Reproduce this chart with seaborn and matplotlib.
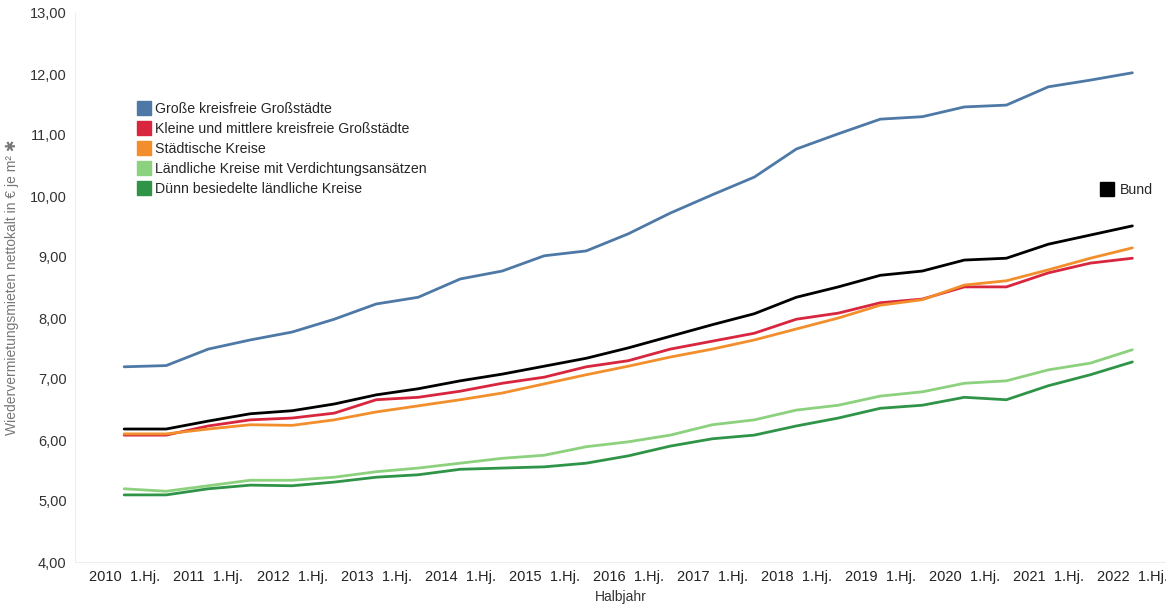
import matplotlib
matplotlib.use('Agg')
import matplotlib.pyplot as plt
from matplotlib.lines import Line2D
import pandas as pd
import seaborn as sns

# Halbjahre 2010 1.Hj. bis 2022 1.Hj.
jahre = list(range(2010, 2023))
halbjahre = []
for j in jahre:
    halbjahre.append(f'{j} 1.Hj.')
    if j < 2022:
        halbjahre.append(f'{j} 2.Hj.')

grosse = [7.20, 7.22, 7.49, 7.64, 7.77, 7.98, 8.23, 8.34, 8.64, 8.77, 9.02, 9.10, 9.38,
          9.72, 10.02, 10.31, 10.77, 11.02, 11.26, 11.30, 11.46, 11.49, 11.79, 11.90, 12.02]
kleine = [6.08, 6.08, 6.23, 6.33, 6.36, 6.44, 6.66, 6.70, 6.80, 6.93, 7.03, 7.20, 7.30,
          7.49, 7.62, 7.75, 7.98, 8.08, 8.25, 8.31, 8.51, 8.51, 8.74, 8.90, 8.98]
staedtisch = [6.10, 6.10, 6.18, 6.25, 6.24, 6.33, 6.46, 6.56, 6.66, 6.77, 6.92, 7.07, 7.21,
              7.36, 7.49, 7.64, 7.82, 8.00, 8.21, 8.30, 8.54, 8.61, 8.79, 8.98, 9.15]
laendlich_verd = [5.20, 5.16, 5.25, 5.34, 5.34, 5.39, 5.48, 5.54, 5.62, 5.70, 5.75, 5.89, 5.97,
                  6.08, 6.25, 6.33, 6.49, 6.57, 6.72, 6.79, 6.93, 6.97, 7.15, 7.26, 7.48]
duenn = [5.10, 5.10, 5.20, 5.26, 5.25, 5.31, 5.39, 5.43, 5.52, 5.54, 5.56, 5.62, 5.74,
         5.90, 6.02, 6.08, 6.23, 6.36, 6.52, 6.57, 6.70, 6.66, 6.89, 7.07, 7.28]
bund = [6.18, 6.18, 6.31, 6.43, 6.48, 6.59, 6.74, 6.84, 6.97, 7.08, 7.21, 7.34, 7.51,
        7.70, 7.89, 8.07, 8.34, 8.51, 8.70, 8.77, 8.95, 8.98, 9.21, 9.36, 9.51]

kreistypen = ['Große kreisfreie Großstädte',
              'Kleine und mittlere kreisfreie Großstädte',
              'Städtische Kreise',
              'Ländliche Kreise mit Verdichtungsansätzen',
              'Dünn besiedelte ländliche Kreise',
              'Bund']
farben = ['#4e79a7', '#d7263d', '#f28e2b', '#8cd17d', '#2f9447', '#000000']
werte = [grosse, kleine, staedtisch, laendlich_verd, duenn, bund]

rows = []
for name, serie in zip(kreistypen, werte):
    for i, v in enumerate(serie):
        rows.append({'pos': i, 'halbjahr': halbjahre[i], 'typ': name, 'miete': v})
df = pd.DataFrame(rows)

sns.set_style('white')
plt.rcParams['font.family'] = ['Liberation Sans', 'DejaVu Sans']

fig = plt.figure(figsize=(11.66, 6.09), dpi=100)
ax = fig.add_axes([75 / 1166, 47 / 609, 1 - 75 / 1166, 549 / 609])

sns.lineplot(data=df, x='pos', y='miete', hue='typ', hue_order=kreistypen,
             palette=dict(zip(kreistypen, farben)), linewidth=2.0, legend=False, ax=ax)

ax.set_xlim(-1.17, 24.8)
ax.set_ylim(4, 13)

yticks = list(range(4, 14))
ax.set_yticks(yticks)
ax.set_yticklabels([f'{t:.2f}'.replace('.', ',') for t in yticks], fontsize=10.5, color='#333333')

xpos = list(range(0, len(halbjahre), 2))
ax.set_xticks(xpos)
ax.set_xticklabels([halbjahre[p].replace(' ', '  ') for p in xpos], fontsize=10.5, color='#222222')
ax.tick_params(axis='both', length=0, pad=6)

ax.set_xlabel('Halbjahr', fontsize=10, color='#333333', labelpad=4)
ax.set_ylabel('Wiedervermietungsmieten nettokalt in € je m² ✱', fontsize=10, color='#777777', labelpad=8)

for s in ['top', 'right']:
    ax.spines[s].set_visible(False)
for s in ['left', 'bottom']:
    ax.spines[s].set_color('#eeeeee')
    ax.spines[s].set_linewidth(0.8)

handles = [Line2D([0], [0], marker='s', linestyle='', markersize=9.5, color=c) for c in farben[:5]]
leg = ax.legend(handles, kreistypen[:5], loc='upper left', bbox_to_anchor=(0.052, 0.848),
                frameon=False, fontsize=10.2, handlelength=0.9, handletextpad=0.35,
                labelspacing=0.42, borderaxespad=0)
ax.add_artist(leg)

h_bund = [Line2D([0], [0], marker='s', linestyle='', markersize=9.5, color='#000000')]
ax.legend(h_bund, ['Bund'], loc='upper left', bbox_to_anchor=(0.935, 0.70),
          frameon=False, fontsize=10.2, handlelength=0.9, handletextpad=0.45, borderaxespad=0)

fig.savefig('out.png', dpi=100)
